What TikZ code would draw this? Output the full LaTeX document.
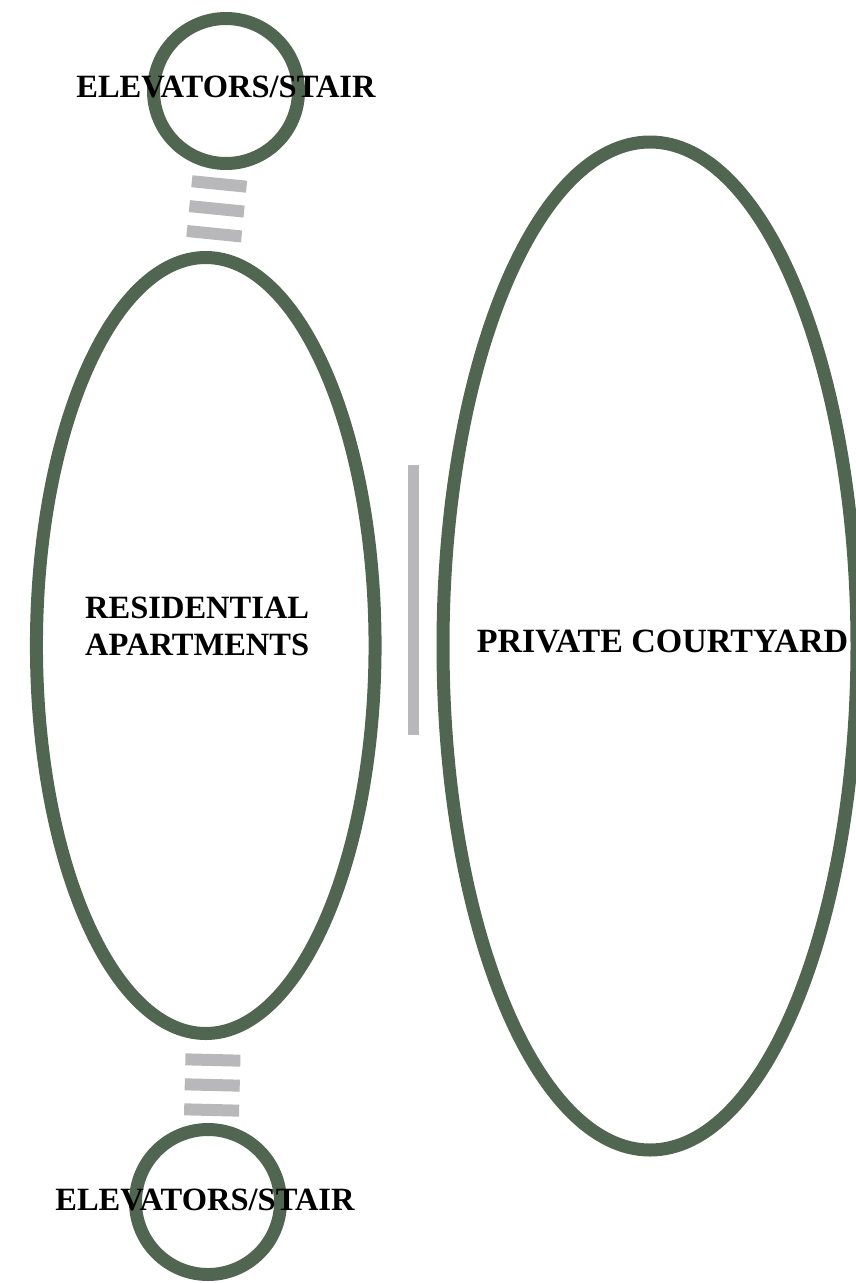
\documentclass[tikz,border=0pt]{standalone}
\usepackage{fontspec}
\setmainfont{Liberation Serif}
\usetikzlibrary{shapes.geometric}
\definecolor{zonegreen}{HTML}{516650}
\definecolor{linkgray}{HTML}{B8B8BA}
\tikzset{
  zone/.style={draw=zonegreen, line width=13pt, inner sep=0pt, fill=none},
  roundzone/.style={zone, circle, minimum size=145pt},
  ovalzone/.style={zone, ellipse},
  lbl/.style={font=\bfseries\fontsize{32.5}{37}\selectfont, text=black, inner sep=0pt},
  biglbl/.style={lbl, font=\bfseries\fontsize{34}{38}\selectfont},
  linkbars/.style={draw=linkgray, line width=55pt, dash pattern=on 12pt off 13pt},
  linkwall/.style={draw=linkgray, line width=11pt}
}
\begin{document}
\begin{tikzpicture}[x=1pt, y=-1pt]
\useasboundingbox (0,0) rectangle (855,1283);
% zones
\node[roundzone] (topcore) at (226,91) {};
\node[roundzone] (botcore) at (208,1202) {};
\node[ovalzone, minimum width=338.6pt, minimum height=776pt] (res) at (205.75,645.5) {};
\node[ovalzone, minimum width=414pt, minimum height=1008pt] (court) at (650,646) {};
% links
\coordinate (ta) at (219.8,178);
\coordinate (tb) at (213.6,240);
\draw[linkbars] (ta) -- (tb);
\coordinate (ba) at (213,1054);
\coordinate (bb) at (211.5,1116);
\draw[linkbars] (ba) -- (bb);
\coordinate (wa) at (413,465);
\coordinate (wb) at (413,735);
\draw[linkwall] (wa) -- (wb);
% labels
\node[lbl, anchor=base] (toplbl) at (226,97) {ELEVATORS/STAIR};
\node[lbl, anchor=base] (botlbl) at (205,1210) {ELEVATORS/STAIR};
\node[biglbl, anchor=base] (courtlbl) at (662.5,652) {PRIVATE COURTYARD};
\node[lbl, anchor=west, align=left] (reslbl) at (85,626.5) {RESIDENTIAL\\APARTMENTS};
\end{tikzpicture}
\end{document}
